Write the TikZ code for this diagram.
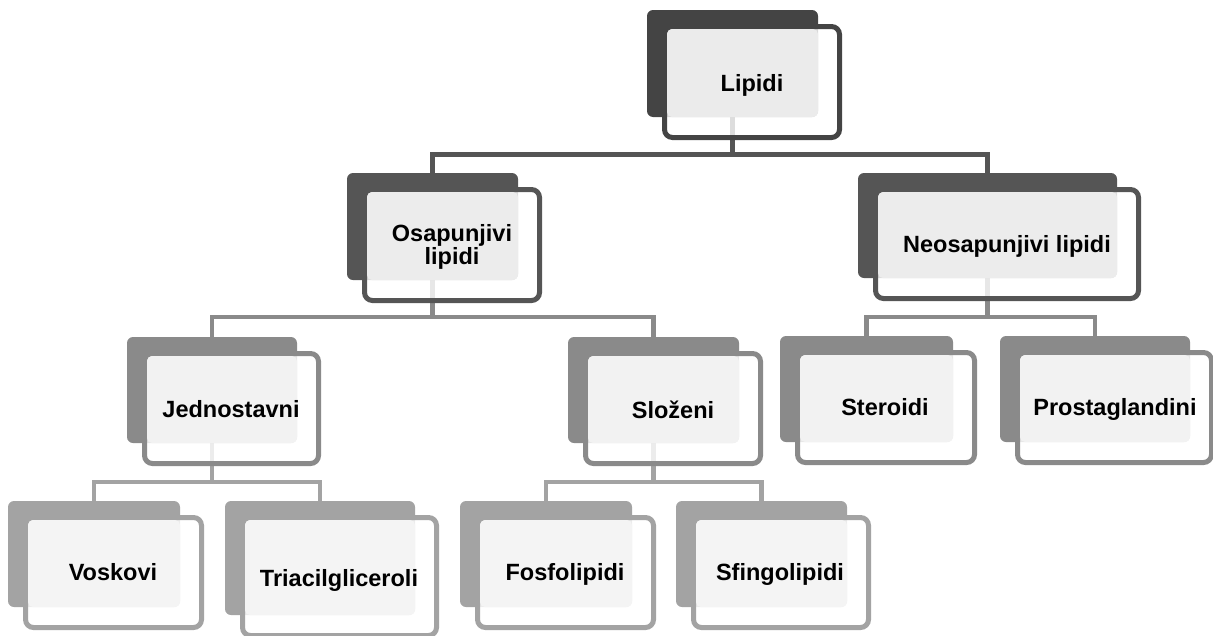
\documentclass[tikz,border=0pt]{standalone}
\usepackage{fontspec}
\setmainfont{Liberation Sans}
\pgfdeclarelayer{background}
\pgfsetlayers{background,main}
\definecolor{Adark}{HTML}{444444}\definecolor{Alight}{HTML}{EBEBEB}
\definecolor{Bdark}{HTML}{555555}\definecolor{Blight}{HTML}{ECECEC}
\definecolor{Cdark}{HTML}{8A8A8A}\definecolor{Clight}{HTML}{F2F2F2}
\definecolor{Ddark}{HTML}{A3A3A3}\definecolor{Dlight}{HTML}{F4F4F4}
\tikzset{
  lbl/.style={inner sep=0pt, align=center, font=\fontsize{23.5}{21}\selectfont\bfseries},
  conn/.style={line width=#1},
}
\newcommand\lnode[9]{%
  \fill[#6dark, rounded corners=6] (#2,#3) rectangle (#4,#5);
  \draw[#6dark, line width=5, fill=white, fill opacity=.8, rounded corners=8]
    (#2+17.5,#3+16.5) rectangle (#4+21.5,#5+20.5);
  \fill[#6light, rounded corners=5] (#2+20,#3+19) rectangle (#4,#5);
  \coordinate (#1-top) at ({(#2+#4)/2},#3);
  \coordinate (#1-bot) at ({(#2+#4)/2},#5);
  \node[lbl, anchor=base] (#1) at (#8,#9) {#7};
}
\begin{document}
\begin{tikzpicture}[x=1pt,y=-1pt]
\useasboundingbox (0,0) rectangle (1213,635);
\lnode{lip}{647}{10}{818}{117}{A}{Lipidi}{752}{91}
\lnode{osa}{347}{173}{518}{280}{B}{Osapunjivi\\lipidi}{452}{264}
\lnode{neo}{858}{173}{1117}{278}{B}{Neosapunjivi lipidi}{1007}{252}
\lnode{jed}{127}{337}{297}{443}{C}{Jednostavni}{231}{417}
\lnode{slo}{568}{337}{739}{443}{C}{Složeni}{673}{418}
\lnode{ste}{780}{336}{953}{442}{C}{Steroidi}{885}{415}
\lnode{pro}{1000}{336}{1190}{442}{C}{Prostaglandini}{1115}{415}
\lnode{vos}{8}{501}{180}{607}{D}{Voskovi}{113}{580}
\lnode{tri}{225}{501}{415}{615}{D}{Triacilgliceroli}{339}{586}
\lnode{fos}{460}{501}{632}{607}{D}{Fosfolipidi}{565}{580}
\lnode{sfi}{676}{501}{847}{607}{D}{Sfingolipidi}{780}{580}
\begin{pgfonlayer}{background}
\draw[conn=5, Bdark] (lip-bot) -- (lip-bot |- 0,154) -| (osa-top);
\draw[conn=5, Bdark] (lip-bot |- 0,154) -| (neo-top);
\draw[conn=4.5, Cdark] (osa-bot) -- (osa-bot |- 0,317) -| (jed-top);
\draw[conn=4.5, Cdark] (osa-bot |- 0,317) -| (slo-top);
\draw[conn=4.5, Cdark] (neo-bot) -- (neo-bot |- 0,317) -| (ste-top);
\draw[conn=4.5, Cdark] (neo-bot |- 0,317) -| (pro-top);
\draw[conn=4.5, Ddark] (jed-bot) -- (jed-bot |- 0,482) -| (vos-top);
\draw[conn=4.5, Ddark] (jed-bot |- 0,482) -| (tri-top);
\draw[conn=4.5, Ddark] (slo-bot) -- (slo-bot |- 0,482) -| (fos-top);
\draw[conn=4.5, Ddark] (slo-bot |- 0,482) -| (sfi-top);
\end{pgfonlayer}
\end{tikzpicture}
\end{document}
